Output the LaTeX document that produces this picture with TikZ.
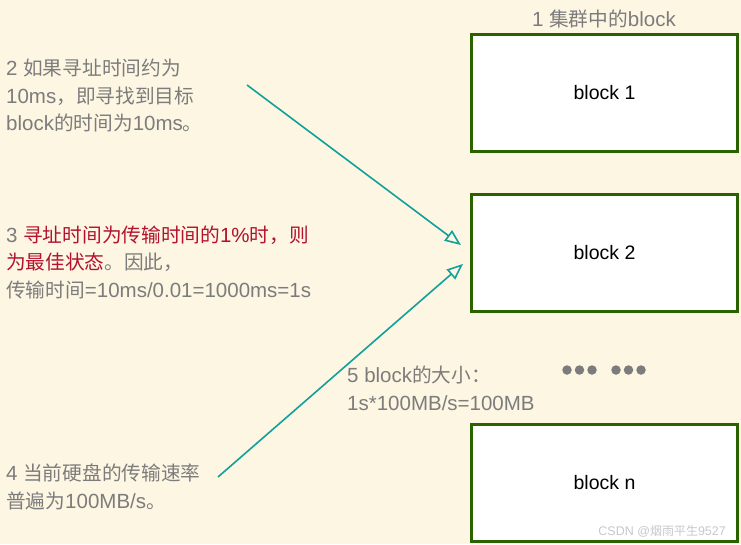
\documentclass[tikz,border=0pt]{standalone}
\usepackage{fontspec}
\setmainfont{Liberation Sans}
\newfontfamily\cjk[Scale=0.96]{Noto Sans CJK SC}
\usetikzlibrary{arrows.meta,calc}
\definecolor{bg}{HTML}{FDF6E3}
\definecolor{boxgreen}{HTML}{2A6200}
\definecolor{teal}{HTML}{12A09A}
\definecolor{txtgray}{HTML}{7C7C7C}
\definecolor{txtred}{HTML}{B3122C}
\definecolor{wmgray}{HTML}{C8C8C8}
\begin{document}
\begin{tikzpicture}[x=1pt,y=-1pt,
  blockbox/.style={draw=boxgreen, line width=3.2pt, fill=white, minimum width=266pt, minimum height=117pt, inner sep=0pt, font=\fontsize{19.5}{22}\selectfont, text=black},
  note/.style={anchor=base west, inner sep=0pt, text=txtgray, font=\fontsize{20.5}{24}\selectfont},
  arr/.style={draw=teal, line width=1.6pt, -{Triangle[open, length=16pt, width=13pt, line width=1.6pt]}},
  dot/.style={circle, fill=txtgray, inner sep=0pt, minimum size=9.5pt}
]
\useasboundingbox[fill=bg] (0,0) rectangle (741,544);

% title
\node[note, anchor=base] (title) at (604,26) {1 {\cjk 集群中的}block};

% blocks
\node[blockbox] (b1) at (604.5,93) {block 1};
\node[blockbox] (b2) at (604.5,253) {block 2};
\node[blockbox] (bn) at (604.5,483) {block n};

% note 2
\node[note] (n2a) at (6,75) {2 {\cjk 如果寻址时间约为}};
\node[note] (n2b) at (6,103) {10ms{\cjk ，即寻找到目标}};
\node[note] (n2c) at (6,130.5) {block{\cjk 的时间为}10ms{\cjk 。}};

% note 3
\node[note] (n3a) at (6,242) {3 \textcolor{txtred}{{\cjk 寻址时间为传输时间的}1\%{\cjk 时，则}}};
\node[note] (n3b) at (6,269.5) {\textcolor{txtred}{\cjk 为最佳状态}{\cjk 。因此，}};
\node[note] (n3c) at (6,297) {{\cjk 传输时间}=10ms/0.01=1000ms=1s};

% note 4
\node[note] (n4a) at (6,480) {4 {\cjk 当前硬盘的传输速率}};
\node[note] (n4b) at (6,508) {{\cjk 普遍为}100MB/s{\cjk 。}};

% note 5
\node[note] (n5a) at (347,382) {5 block{\cjk 的大小：}};
\node[note] (n5b) at (347,410) {1s*100MB/s=100MB};

% dots
\foreach \i/\x in {1/567,2/579.5,3/592,4/616,5/628.5,6/641}
  \node[dot] (d\i) at (\x,370) {};

% arrows
\coordinate (a2s) at (247,85);
\coordinate (a4s) at (218,477);
\draw[arr] (a2s) -- ($(b2.west)+(-9,-8)$);
\draw[arr] (a4s) -- ($(b2.west)+(-7,11)$);

% watermark
\node[anchor=base east, inner sep=0pt, text=wmgray, font=\fontsize{12.5}{14}\selectfont] (wm) at (726,535) {CSDN @{\cjk 烟雨平生}9527};
\end{tikzpicture}
\end{document}
